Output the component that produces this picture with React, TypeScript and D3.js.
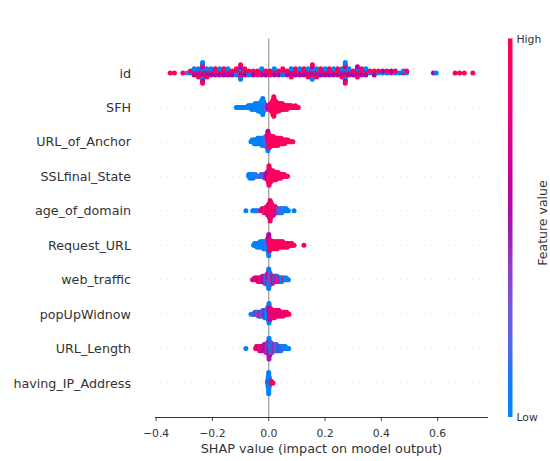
import * as d3 from 'd3';

// feature names, top to bottom
const features = [
  'id', 'SFH', 'URL_of_Anchor', 'SSLfinal_State', 'age_of_domain',
  'Request_URL', 'web_traffic', 'popUpWidnow', 'URL_Length', 'having_IP_Address',
];

// each entry: [shap value, feature value (0 low .. 1 high), dots in that column]
type Entry = [number, number, number];

const idPts: Entry[] = [
  [-0.35, 0.95, 1], [-0.335, 0.95, 1], [-0.305, 0.9, 1], [-0.29, 0.2, 1],
  [-0.278, 0.05, 1], [-0.278, 0.95, 1],
  [-0.265, 0.05, 2], [-0.265, 0.95, 1], [-0.265, 0.55, 1],
  [-0.25, 0.05, 2], [-0.25, 0.95, 2], [-0.25, 0.55, 1],
  [-0.235, 0.05, 4], [-0.235, 0.95, 4], [-0.235, 0.55, 3],
  [-0.22, 0.05, 2], [-0.22, 0.95, 2], [-0.22, 0.55, 1],
  [-0.205, 0.05, 2], [-0.205, 0.95, 1], [-0.205, 0.55, 1],
  [-0.19, 0.05, 1], [-0.19, 0.95, 2], [-0.19, 0.55, 1],
  [-0.175, 0.05, 2], [-0.175, 0.95, 1], [-0.175, 0.55, 1],
  [-0.16, 0.05, 1], [-0.16, 0.95, 2], [-0.16, 0.55, 1],
  [-0.145, 0.05, 2], [-0.145, 0.95, 1], [-0.145, 0.55, 1],
  [-0.13, 0.05, 1], [-0.13, 0.95, 1], [-0.13, 0.55, 1],
  [-0.115, 0.05, 2], [-0.115, 0.95, 2],
  [-0.1, 0.05, 3], [-0.1, 0.95, 3], [-0.1, 0.55, 2],
  [-0.085, 0.05, 1], [-0.085, 0.95, 2], [-0.085, 0.55, 1],
  [-0.07, 0.05, 2], [-0.07, 0.95, 1],
  [-0.055, 0.05, 1], [-0.055, 0.95, 1], [-0.055, 0.55, 1],
  [-0.04, 0.05, 1], [-0.04, 0.95, 2],
  [-0.025, 0.05, 2], [-0.025, 0.95, 1], [-0.025, 0.55, 1],
  [-0.01, 0.05, 1], [-0.01, 0.95, 1], [-0.01, 0.55, 1],
  [0.005, 0.05, 1], [0.005, 0.95, 2],
  [0.02, 0.05, 2], [0.02, 0.95, 1], [0.02, 0.55, 1],
  [0.035, 0.05, 1], [0.035, 0.95, 1], [0.035, 0.55, 1],
  [0.05, 0.05, 2], [0.05, 0.95, 2],
  [0.065, 0.05, 1], [0.065, 0.95, 1], [0.065, 0.55, 1],
  [0.08, 0.05, 2], [0.08, 0.95, 2], [0.08, 0.55, 1],
  [0.095, 0.05, 1], [0.095, 0.95, 2], [0.095, 0.55, 1],
  [0.11, 0.05, 2], [0.11, 0.95, 1], [0.11, 0.55, 1],
  [0.125, 0.05, 1], [0.125, 0.95, 2], [0.125, 0.55, 1],
  [0.14, 0.05, 2], [0.14, 0.95, 2], [0.14, 0.55, 1],
  [0.155, 0.05, 3], [0.155, 0.95, 3], [0.155, 0.55, 2],
  [0.17, 0.05, 2], [0.17, 0.95, 2], [0.17, 0.55, 1],
  [0.185, 0.05, 1], [0.185, 0.95, 2], [0.185, 0.55, 1],
  [0.2, 0.05, 2], [0.2, 0.95, 1], [0.2, 0.55, 1],
  [0.215, 0.05, 1], [0.215, 0.95, 2], [0.215, 0.55, 1],
  [0.23, 0.05, 2], [0.23, 0.95, 1], [0.23, 0.55, 1],
  [0.245, 0.05, 1], [0.245, 0.95, 2], [0.245, 0.55, 1],
  [0.26, 0.05, 2], [0.26, 0.95, 2], [0.26, 0.55, 1],
  [0.272, 0.05, 4], [0.272, 0.95, 4], [0.272, 0.55, 3],
  [0.285, 0.05, 2], [0.285, 0.95, 1], [0.285, 0.55, 1],
  [0.3, 0.05, 1], [0.3, 0.95, 1], [0.3, 0.55, 1],
  [0.315, 0.05, 2], [0.315, 0.95, 2], [0.315, 0.55, 2],
  [0.33, 0.05, 1], [0.33, 0.95, 2], [0.33, 0.55, 1],
  [0.345, 0.05, 2], [0.345, 0.95, 1], [0.345, 0.55, 1],
  [0.36, 0.05, 1], [0.36, 0.95, 1],
  [0.375, 0.05, 1], [0.375, 0.95, 1], [0.375, 0.55, 1],
  [0.39, 0.05, 1], [0.39, 0.95, 1],
  [0.405, 0.05, 1], [0.405, 0.55, 1],
  [0.42, 0.05, 1], [0.42, 0.95, 1],
  [0.435, 0.95, 1], [0.435, 0.55, 1],
  [0.45, 0.05, 1], [0.45, 0.95, 1],
  [0.465, 0.05, 1],
  [0.478, 0.95, 1], [0.478, 0.05, 1],
  [0.49, 0.05, 1], [0.49, 0.95, 1],
  [0.585, 0.55, 1], [0.595, 0.05, 1], [0.662, 0.95, 1], [0.678, 0.95, 1], [0.695, 0.95, 1], [0.725, 0.95, 1],
];

const sfhPts: Entry[] = [
  [-0.115, 0.05, 1], [-0.109, 0.05, 1], [-0.103, 0.05, 1], [-0.097, 0.05, 1], [-0.091, 0.05, 1],
  [-0.086, 0.05, 1], [-0.081, 0.05, 1], [-0.077, 0.05, 1], [-0.073, 0.05, 2], [-0.069, 0.05, 2],
  [-0.065, 0.05, 2], [-0.061, 0.05, 3], [-0.057, 0.05, 3], [-0.053, 0.05, 3], [-0.049, 0.05, 4],
  [-0.045, 0.05, 4], [-0.041, 0.05, 4], [-0.037, 0.05, 5], [-0.033, 0.05, 5], [-0.03, 0.05, 5],
  [-0.027, 0.05, 6], [-0.024, 0.05, 8], [-0.021, 0.05, 10], [-0.018, 0.05, 6], [-0.015, 0.05, 4],
  [-0.012, 0.05, 3], [-0.009, 0.2, 3], [-0.006, 0.4, 2], [-0.003, 0.5, 2], [0, 0.6, 3],
  [0.003, 0.7, 3], [0.006, 0.95, 4], [0.009, 0.95, 5], [0.012, 0.95, 6], [0.015, 0.95, 9],
  [0.018, 0.95, 12], [0.021, 0.95, 8], [0.024, 0.95, 6], [0.027, 0.95, 6], [0.03, 0.95, 5],
  [0.033, 0.95, 5], [0.036, 0.95, 5], [0.039, 0.95, 4], [0.042, 0.95, 4], [0.045, 0.95, 4],
  [0.049, 0.95, 4], [0.053, 0.95, 3], [0.057, 0.95, 3], [0.061, 0.95, 3], [0.065, 0.95, 3],
  [0.069, 0.95, 2], [0.073, 0.95, 2], [0.077, 0.95, 2], [0.081, 0.95, 2], [0.085, 0.95, 1],
  [0.09, 0.95, 1], [0.095, 0.95, 2], [0.1, 0.95, 1], [0.105, 0.95, 1],
];

const anchorPts: Entry[] = [
  [-0.063, 0.05, 1], [-0.059, 0.05, 2], [-0.055, 0.05, 2], [-0.051, 0.05, 3], [-0.047, 0.05, 3],
  [-0.043, 0.05, 3], [-0.039, 0.05, 4], [-0.035, 0.05, 4], [-0.031, 0.05, 4], [-0.027, 0.05, 4],
  [-0.023, 0.05, 5], [-0.019, 0.05, 5], [-0.015, 0.05, 5], [-0.011, 0.15, 6], [-0.007, 0.3, 7],
  [-0.003, 0.05, 6], [-0.003, 0.6, 6], [0.001, 0.95, 8], [0.004, 0.95, 7], [0.008, 0.95, 6],
  [0.012, 0.95, 6], [0.016, 0.95, 6], [0.02, 0.95, 5], [0.024, 0.95, 5], [0.028, 0.95, 5],
  [0.032, 0.95, 5], [0.036, 0.95, 4], [0.04, 0.95, 4], [0.044, 0.95, 4], [0.048, 0.95, 3],
  [0.052, 0.95, 3], [0.056, 0.95, 3], [0.06, 0.95, 2], [0.064, 0.95, 2], [0.068, 0.95, 2],
  [0.072, 0.95, 1], [0.077, 0.95, 1], [0.082, 0.95, 1], [0.086, 0.95, 1],
];

const sslPts: Entry[] = [
  [-0.071, 0.05, 2], [-0.067, 0.05, 3], [-0.063, 0.05, 3], [-0.059, 0.05, 3], [-0.055, 0.05, 3],
  [-0.051, 0.05, 2], [-0.047, 0.2, 2], [-0.043, 0.05, 1], [-0.039, 0.05, 1], [-0.035, 0.3, 1],
  [-0.031, 0.05, 1], [-0.027, 0.35, 2], [-0.023, 0.05, 2], [-0.019, 0.4, 2], [-0.015, 0.3, 3],
  [-0.011, 0.5, 3], [-0.007, 0.55, 4], [-0.004, 0.6, 5], [-0.001, 0.7, 7], [0.001, 0.95, 7],
  [0.001, 0.6, 5], [0.004, 0.95, 8], [0.007, 0.95, 7], [0.01, 0.95, 6], [0.013, 0.95, 6],
  [0.016, 0.95, 6], [0.019, 0.95, 5], [0.022, 0.95, 5], [0.025, 0.95, 5], [0.028, 0.95, 4],
  [0.031, 0.95, 4], [0.034, 0.95, 4], [0.037, 0.95, 3], [0.04, 0.95, 3], [0.043, 0.95, 3],
  [0.047, 0.95, 2], [0.051, 0.95, 2], [0.055, 0.95, 2], [0.059, 0.95, 1], [0.063, 0.95, 1],
  [0.067, 0.95, 1],
];

const agePts: Entry[] = [
  [-0.081, 0.05, 1], [-0.057, 0.05, 1], [-0.053, 0.05, 1], [-0.046, 0.05, 1], [-0.042, 0.05, 1],
  [-0.035, 0.3, 1], [-0.028, 0.6, 1], [-0.024, 0.95, 2], [-0.02, 0.5, 2], [-0.016, 0.95, 3],
  [-0.012, 0.4, 3], [-0.008, 0.95, 4], [-0.004, 0.5, 5], [-0.001, 0.95, 6], [0.002, 0.6, 7],
  [0.005, 0.95, 11], [0.008, 0.7, 8], [0.011, 0.95, 6], [0.014, 0.95, 5], [0.017, 0.6, 5],
  [0.02, 0.95, 4], [0.023, 0.95, 4], [0.026, 0.5, 3], [0.03, 0.95, 3], [0.034, 0.4, 3],
  [0.038, 0.05, 3], [0.042, 0.3, 3], [0.046, 0.05, 3], [0.05, 0.05, 2], [0.054, 0.2, 2],
  [0.058, 0.05, 2], [0.062, 0.05, 2], [0.066, 0.05, 1], [0.07, 0.05, 1], [0.09, 0.05, 1],
];

const requestPts: Entry[] = [
  [-0.054, 0.05, 1], [-0.05, 0.05, 2], [-0.046, 0.05, 2], [-0.042, 0.05, 3], [-0.038, 0.05, 3],
  [-0.034, 0.05, 3], [-0.03, 0.05, 4], [-0.026, 0.05, 4], [-0.022, 0.05, 4], [-0.018, 0.05, 5],
  [-0.014, 0.05, 5], [-0.01, 0.15, 5], [-0.006, 0.05, 6], [-0.003, 0.3, 8], [0, 0.05, 7],
  [0, 0.55, 6], [0.003, 0.7, 7], [0.006, 0.95, 6], [0.01, 0.95, 5], [0.014, 0.95, 5],
  [0.018, 0.95, 5], [0.022, 0.95, 5], [0.026, 0.95, 5], [0.03, 0.95, 5], [0.034, 0.95, 4],
  [0.038, 0.95, 4], [0.042, 0.95, 4], [0.046, 0.95, 4], [0.05, 0.95, 4], [0.054, 0.95, 3],
  [0.058, 0.95, 3], [0.062, 0.95, 3], [0.066, 0.95, 3], [0.07, 0.95, 2], [0.074, 0.95, 2],
  [0.078, 0.95, 2], [0.082, 0.95, 2], [0.086, 0.95, 1], [0.09, 0.95, 1], [0.125, 0.95, 1],
];

const trafficPts: Entry[] = [
  [-0.058, 0.95, 1], [-0.054, 0.95, 1], [-0.05, 0.6, 2], [-0.046, 0.95, 2], [-0.042, 0.6, 2],
  [-0.038, 0.95, 3], [-0.034, 0.55, 3], [-0.03, 0.95, 3], [-0.026, 0.5, 3], [-0.022, 0.6, 4],
  [-0.018, 0.95, 4], [-0.014, 0.5, 5], [-0.01, 0.4, 5], [-0.006, 0.05, 6], [-0.003, 0.5, 7],
  [0, 0.05, 7], [0, 0.6, 5], [0.003, 0.05, 8], [0.006, 0.4, 6], [0.01, 0.05, 5],
  [0.014, 0.5, 5], [0.018, 0.95, 4], [0.022, 0.05, 4], [0.026, 0.6, 4], [0.03, 0.05, 4],
  [0.034, 0.95, 3], [0.038, 0.05, 3], [0.042, 0.5, 3], [0.046, 0.05, 3], [0.05, 0.05, 2],
  [0.054, 0.95, 2], [0.058, 0.05, 2], [0.062, 0.05, 2], [0.066, 0.05, 1], [0.07, 0.05, 1],
];

const popupPts: Entry[] = [
  [-0.063, 0.05, 1], [-0.057, 0.05, 1], [-0.053, 0.4, 1], [-0.049, 0.05, 2], [-0.045, 0.5, 2],
  [-0.041, 0.05, 2], [-0.037, 0.4, 3], [-0.033, 0.05, 3], [-0.029, 0.5, 3], [-0.025, 0.05, 3],
  [-0.021, 0.4, 4], [-0.017, 0.05, 4], [-0.013, 0.5, 5], [-0.009, 0.05, 5], [-0.005, 0.3, 6],
  [-0.002, 0.05, 8], [0.001, 0.05, 7], [0.001, 0.5, 5], [0.004, 0.6, 7], [0.008, 0.95, 6],
  [0.012, 0.6, 5], [0.016, 0.95, 5], [0.02, 0.95, 5], [0.024, 0.7, 4], [0.028, 0.95, 4],
  [0.032, 0.95, 4], [0.036, 0.6, 4], [0.04, 0.95, 3], [0.044, 0.95, 3], [0.048, 0.7, 3],
  [0.052, 0.95, 3], [0.056, 0.95, 2], [0.06, 0.6, 2], [0.064, 0.95, 2], [0.068, 0.95, 1],
  [0.072, 0.95, 1],
];

const lengthPts: Entry[] = [
  [-0.081, 0.05, 1], [-0.047, 0.95, 1], [-0.044, 0.95, 2], [-0.04, 0.95, 2], [-0.036, 0.6, 2],
  [-0.032, 0.95, 3], [-0.028, 0.95, 3], [-0.024, 0.6, 3], [-0.02, 0.95, 3], [-0.016, 0.5, 4],
  [-0.012, 0.6, 4], [-0.008, 0.5, 5], [-0.004, 0.4, 6], [-0.001, 0.95, 6], [0.001, 0.5, 6],
  [0.001, 0.05, 5], [0.004, 0.6, 7], [0.007, 0.05, 6], [0.011, 0.4, 5], [0.015, 0.05, 4],
  [0.019, 0.5, 4], [0.023, 0.05, 4], [0.027, 0.4, 4], [0.031, 0.05, 3], [0.035, 0.05, 3],
  [0.039, 0.5, 3], [0.043, 0.05, 3], [0.047, 0.05, 2], [0.051, 0.4, 2], [0.055, 0.05, 2],
  [0.059, 0.05, 2], [0.063, 0.05, 1], [0.067, 0.05, 1], [0.071, 0.05, 1],
];

const ipPts: Entry[] = [
  [-0.004, 0.05, 2], [-0.002, 0.05, 6], [0, 0.05, 12], [0, 0.5, 1], [0.002, 0.05, 6],
  [0.004, 0.4, 2], [0.006, 0.05, 2], [0.009, 0.95, 2], [0.012, 0.95, 1], [0.015, 0.95, 1],
];

const rowData = [idPts, sfhPts, anchorPts, sslPts, agePts, requestPts, trafficPts, popupPts, lengthPts, ipPts];

const xTicks = [-0.4, -0.2, 0, 0.2, 0.4, 0.6];

// shap's red_blue colormap (lch path through a darker purple)
function shapColor(t: number) {
  const h = 266.93 + t * (380.32 - 266.93);
  const c = 70 + t * 20;
  const l = t < 0.5 ? 54 - 28 * t : 40 + 28 * (t - 0.5);
  return d3.hcl(h, c, l).formatHex();
}

// stack dots of each column alternately up/down, scaled to the row height
function swarm(entries: Entry[]) {
  const out: { v: number; fv: number; layer: number }[] = [];
  let maxLayer = 0;
  for (const [v, es] of d3.groups(entries, e => e[0])) {
    const seq: number[] = [];
    const maxN = d3.max(es, e => e[2]) || 0;
    for (let k = 0; k < maxN; k++) es.forEach(e => { if (e[2] > k) seq.push(e[1]); });
    seq.forEach((fv, i) => {
      const layer = Math.ceil(i / 2) * ((i % 2) * 2 - 1);
      maxLayer = Math.max(maxLayer, Math.abs(layer));
      out.push({ v, fv, layer });
    });
  }
  const s = (0.9 * 0.4) / (maxLayer + 1);
  return out.map(p => ({ ...p, off: p.layer * s }));
}

const font = 'DejaVu Sans';
const axisColor = '#333333';

export default function App() {
  const x = d3.scaleLinear().domain([-0.404, 0.779]).range([155, 488]);
  const y = d3.scaleLinear().domain([-1, features.length]).range([417.5, 38.5]);
  const n = features.length;
  const stops = d3.range(0, 1.0001, 0.1);

  return (
    <svg width={550} height={461} style={{ position: 'absolute', left: 0, top: 0, background: '#fff' }} fontFamily={font}>
      <defs>
        <linearGradient id="cbar" x1="0" y1="1" x2="0" y2="0">
          {stops.map(t => <stop key={t} offset={t} stopColor={shapColor(t)} />)}
        </linearGradient>
      </defs>

      {/* row guides */}
      {features.map((f, i) => (
        <line key={f} x1={155} x2={488} y1={y(n - 1 - i)} y2={y(n - 1 - i)}
          stroke="#cccccc" strokeWidth={0.6} strokeDasharray="1,5" />
      ))}
      <line x1={x(0)} x2={x(0)} y1={y(n)} y2={y(-1)} stroke="#999999" strokeWidth={1.2} />

      {/* dots */}
      {rowData.map((entries, i) => {
        const pos = n - 1 - i;
        return (
          <g key={features[i]}>
            {swarm(entries).map((p, j) => (
              <circle key={j} cx={x(p.v)} cy={y(pos + p.off)} r={2.5} fill={shapColor(p.fv)} />
            ))}
          </g>
        );
      })}

      {/* feature labels */}
      {features.map((f, i) => (
        <text key={f} x={131} y={y(n - 1 - i)} dy="0.36em" textAnchor="end" fontSize={12.7} fill={axisColor}>{f}</text>
      ))}

      {/* x axis */}
      <line x1={155} x2={488} y1={417.5} y2={417.5} stroke={axisColor} strokeWidth={1} />
      {xTicks.map(t => (
        <g key={t} transform={`translate(${x(t)},417.5)`}>
          <line y1={0} y2={3.5} stroke={axisColor} strokeWidth={0.9} />
          <text y={19} textAnchor="middle" fontSize={10.8} fill={axisColor}>{d3.format('.1f')(t).replace('-', '\u2212')}</text>
        </g>
      ))}
      <text x={321.5} y={453} textAnchor="middle" fontSize={12.8} fill={axisColor}>SHAP value (impact on model output)</text>

      {/* colour bar */}
      <rect x={508} y={38.5} width={4.5} height={378.5} fill="url(#cbar)" />
      <text x={516.5} y={39.5} dy="0.36em" fontSize={10.8} fill={axisColor}>High</text>
      <text x={516.5} y={417} dy="0.36em" fontSize={10.8} fill={axisColor}>Low</text>
      <text transform="translate(547,223) rotate(-90)" textAnchor="middle" fontSize={12.5} fill={axisColor}>Feature value</text>
    </svg>
  );
}
